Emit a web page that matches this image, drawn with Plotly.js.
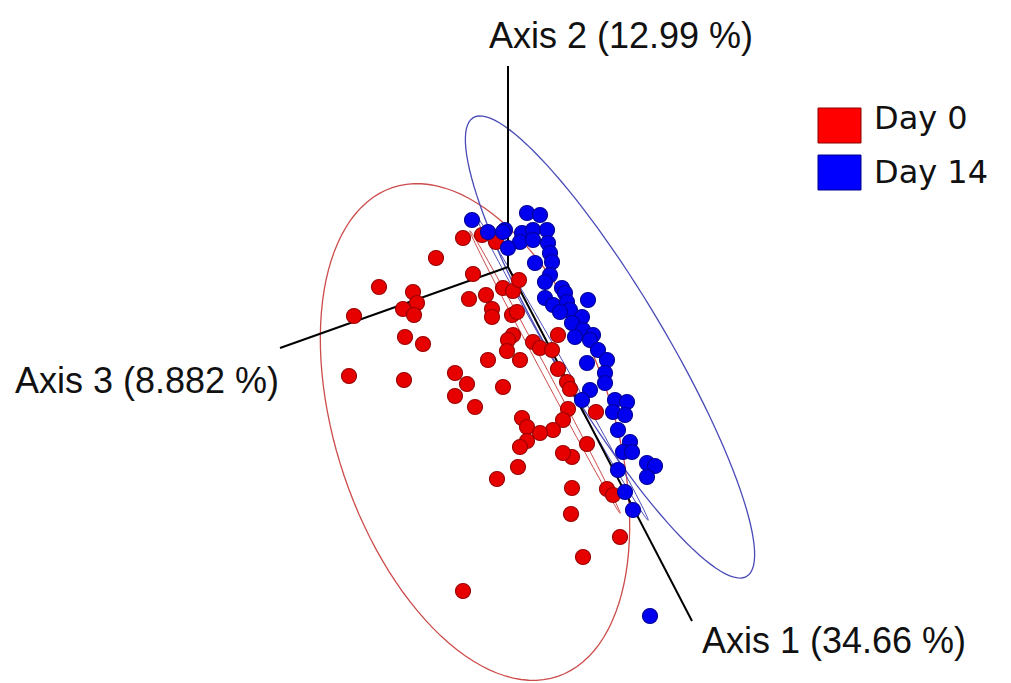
<!DOCTYPE html>
<html><head><meta charset="utf-8">
<script src="https://cdn.plot.ly/plotly-3.0.1.min.js"></script>
<style>html,body{margin:0;padding:0;background:#fff;}#chart{width:1011px;height:683px;}</style>
</head><body><div id="chart"></div>
<script>
// Projected PCoA coordinates (screen-space units of the picture)
const day0X = [463,482,496,436,473,379,413,417,403,414,354,469,486,492,492,503,513,519,512,517,405,423,513,508,507,520,488,349,404,455,467,455,475,503,522,533,540,552,558,558,567,570,596,527,568,563,553,540,527,520,587,572,563,518,497,572,607,613,571,620,583,463];
const day0Y = [238,235,242,258,274,287,292,303,309,315,316,299,295,309,317,288,291,280,315,312,337,344,335,340,351,360,360,376,380,373,384,396,407,387,418,342,348,350,335,369,382,389,412,427,409,420,430,433,441,447,444,457,453,467,479,488,489,495,514,537,557,591];
const day14X = [472,505,488,527,540,503,522,533,547,520,533,548,508,550,535,552,550,545,562,565,545,553,567,570,588,560,582,572,583,593,575,590,598,587,607,605,605,590,582,615,627,613,625,618,630,623,632,647,655,647,618,625,633,650];
const day14Y = [220,230,232,213,215,232,233,230,230,242,240,243,248,253,263,262,275,282,288,293,298,305,302,310,300,312,317,323,330,335,337,340,350,363,360,373,383,390,400,400,402,412,415,430,442,452,452,463,466,477,470,492,510,616];
const groupNames = ["Day 0", "Day 14"];
const axisLabels = ["Axis 1 (34.66 %)", "Axis 2 (12.99 %)", "Axis 3 (8.882 %)"];

function ellipsePath(cx, cy, a, b, thetaDeg) {
  const t = thetaDeg * Math.PI / 180;
  const ux = Math.sin(t), uy = Math.cos(t), vx = Math.cos(t), vy = -Math.sin(t);
  let p = "";
  for (let i = 0; i <= 120; i++) {
    const s = 2 * Math.PI * i / 120;
    const x = cx + a * Math.cos(s) * ux + b * Math.sin(s) * vx;
    const y = cy + a * Math.cos(s) * uy + b * Math.sin(s) * vy;
    p += (i === 0 ? "M" : "L") + x.toFixed(2) + "," + y.toFixed(2);
  }
  return p + "Z";
}

const origin = [508, 267];
const axLine = (x1, y1, x2, y2) => ({type: "line", x0: x1, y0: y1, x1: x2, y1: y2, line: {color: "#000", width: 2}, layer: "below"});

const shapes = [
  {type: "path", path: ellipsePath(475, 432, 258, 138, 18.7), line: {color: "#cc4b4b", width: 1.3}, layer: "below"},
  {type: "path", path: ellipsePath(610, 347, 267, 55, 30.8), line: {color: "#4b4bb8", width: 1.3}, layer: "below"},
  {type: "path", path: ellipsePath(545, 372, 160, 3, 28), line: {color: "#cc4b4b", width: 1}, layer: "below"},
  {type: "path", path: ellipsePath(562, 368, 175, 4, 29.5), line: {color: "#4b4bb8", width: 1}, layer: "below"},
  axLine(origin[0], origin[1], 508, 66),
  axLine(origin[0], origin[1], 280, 348),
  axLine(origin[0], origin[1], 692, 621),
  {type: "rect", x0: 818, x1: 861, y0: 108, y1: 143, fillcolor: "#ff0000", line: {color: "#8a0000", width: 1}},
  {type: "rect", x0: 818, x1: 861, y0: 155, y1: 190, fillcolor: "#0000ff", line: {color: "#00008a", width: 1}}
];

const labFont = {family: "Liberation Sans, Arial, sans-serif", size: 36, color: "#111"};
const legFont = {family: "DejaVu Sans, Verdana, sans-serif", size: 32, color: "#111"};
const annotations = [
  {x: 621, y: 35, text: axisLabels[1], showarrow: false, font: labFont, xanchor: "center", yanchor: "middle"},
  {x: 147, y: 380, text: axisLabels[2], showarrow: false, font: labFont, xanchor: "center", yanchor: "middle"},
  {x: 834, y: 640, text: axisLabels[0], showarrow: false, font: labFont, xanchor: "center", yanchor: "middle"},
  {x: 872, y: 118, text: groupNames[0], showarrow: false, font: legFont, xanchor: "left", yanchor: "middle"},
  {x: 872, y: 172, text: groupNames[1], showarrow: false, font: legFont, xanchor: "left", yanchor: "middle"}
];

const traces = [
  {x: day0X, y: day0Y, name: groupNames[0], type: "scatter", mode: "markers",
   marker: {size: 15, color: "#e60000", line: {color: "#9a0000", width: 1.2}}},
  {x: day14X, y: day14Y, name: groupNames[1], type: "scatter", mode: "markers",
   marker: {size: 15, color: "#0000ee", line: {color: "#00009a", width: 1.2}}}
];

const layout = {
  width: 1011, height: 683,
  margin: {l: 0, r: 0, t: 0, b: 0},
  paper_bgcolor: "#fff", plot_bgcolor: "#fff",
  showlegend: false,
  xaxis: {range: [0, 1011], visible: false, fixedrange: true},
  yaxis: {range: [683, 0], visible: false, fixedrange: true},
  shapes: shapes,
  annotations: annotations
};
Plotly.newPlot("chart", traces, layout, {displayModeBar: false, staticPlot: true});
</script></body></html>
